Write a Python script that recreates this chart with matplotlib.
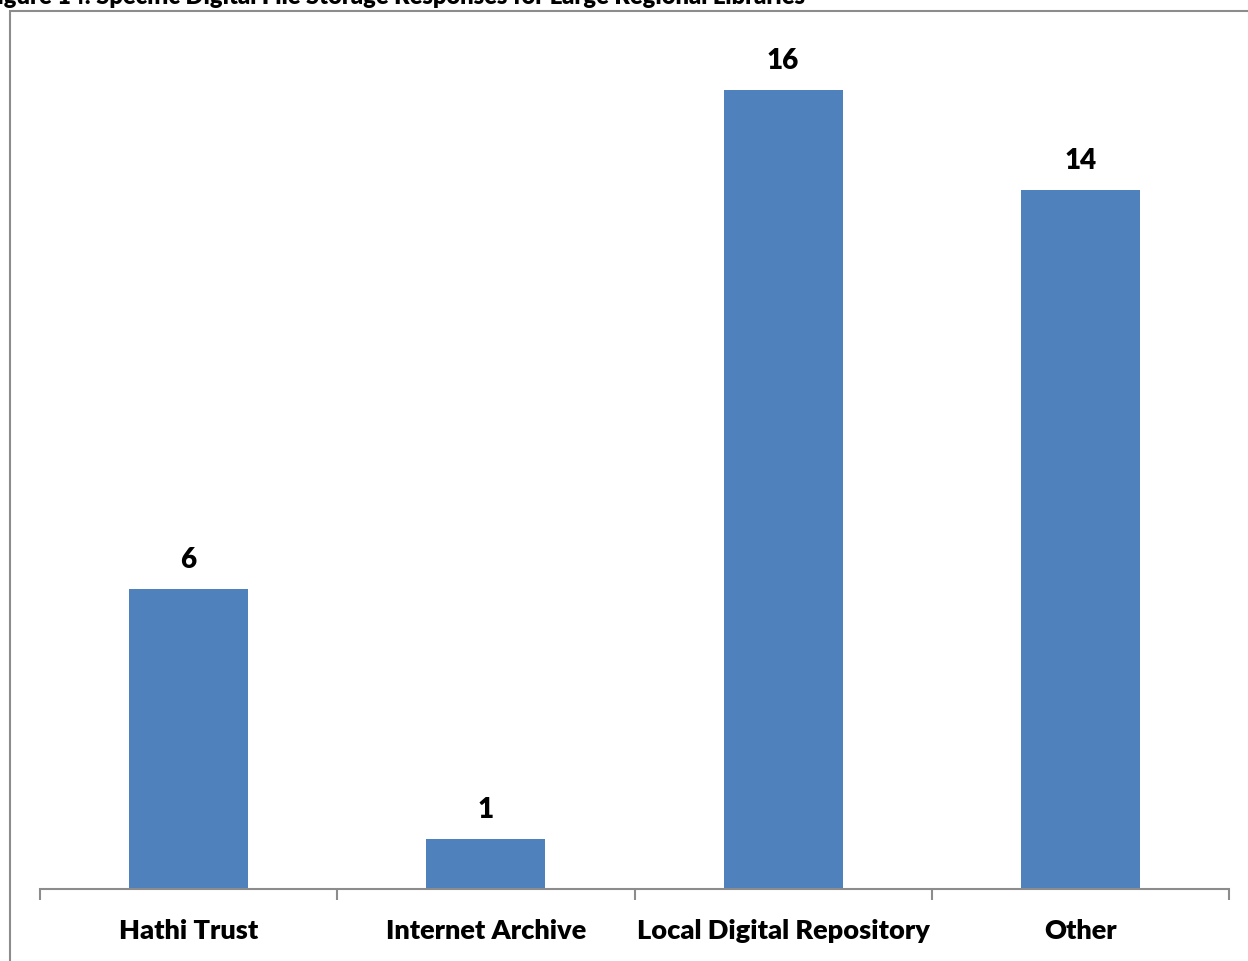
import matplotlib.pyplot as plt
from matplotlib.patches import Rectangle
import numpy as np

# storage responses
categories = ['Hathi Trust', 'Internet Archive', 'Local Digital Repository', 'Other']
responses = [6, 1, 16, 14]
title = 'Figure 14: Specific Digital File Storage Responses for Large Regional Libraries'

plt.rcParams['font.family'] = ['Lato', 'DejaVu Sans']

W, H = 1248, 962
fig = plt.figure(figsize=(W / 100, H / 100), dpi=100)

# chart frame (runs off right and bottom edges)
fig.patches.append(Rectangle((10 / W, -0.1), 1.2, (H - 12) / H + 0.1,
                             transform=fig.transFigure, fill=False,
                             edgecolor='#8c8c8c', linewidth=1.5))

fig.text(805 / W, (H - 4) / H, title, ha='right', va='baseline',
         fontsize=17, fontweight='heavy')

ax = fig.add_axes([40 / W, (H - 890) / H, (1229 - 40) / W, (890 - 40) / H])
x = np.arange(len(categories))
bars = ax.bar(x, responses, width=0.4, color='#4f81bd')
ax.set_xlim(-0.5, len(categories) - 0.5)
ax.set_ylim(0, 17.02)

for b, v in zip(bars, responses):
    ax.annotate(str(v), (b.get_x() + b.get_width() / 2, v),
                xytext=(0, 17), textcoords='offset pixels',
                ha='center', va='bottom', fontsize=20, fontweight='heavy')

for s in ['top', 'right', 'left']:
    ax.spines[s].set_visible(False)
ax.spines['bottom'].set_color('#8c8c8c')
ax.spines['bottom'].set_linewidth(1.5)
ax.set_yticks([])
ax.set_xticks(x)
ax.set_xticklabels(categories, fontsize=19.5, fontweight='heavy')
ax.tick_params(axis='x', which='major', length=0, pad=21)
ax.set_xticks(np.arange(-0.5, len(categories)), minor=True)
ax.tick_params(axis='x', which='minor', length=8, width=1.5, color='#8c8c8c')

fig.savefig('out.png', dpi=100)
